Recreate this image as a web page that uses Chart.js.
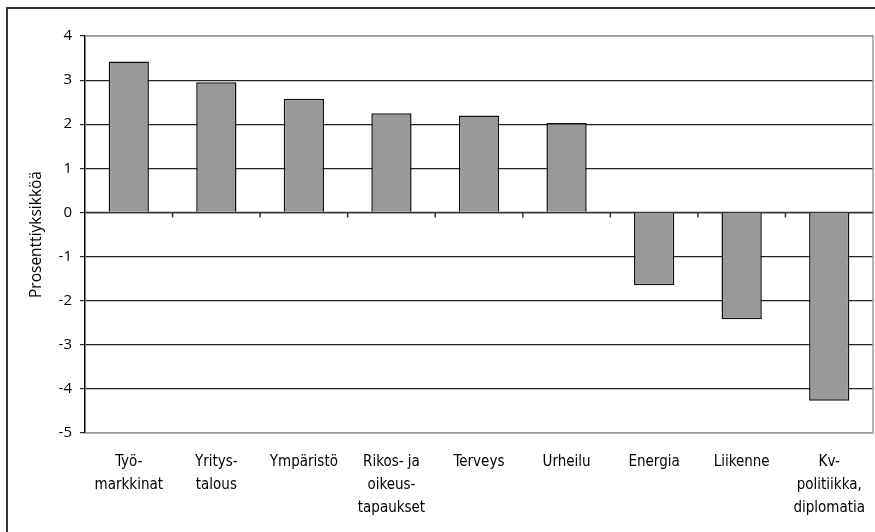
<!DOCTYPE html>
<html>
<head>
<meta charset="utf-8">
<script src="https://cdn.jsdelivr.net/npm/chart.js@4/dist/chart.umd.min.js"></script>
<style>
  html, body { margin: 0; padding: 0; background: #fff; }
  #wrap { width: 875px; height: 532px; position: relative; }
</style>
</head>
<body>
<div id="wrap"><canvas id="chart"></canvas></div>
<script>
const categories = [
  ["Työ-", "markkinat"],
  ["Yritys-", "talous"],
  ["Ympäristö"],
  ["Rikos- ja", "oikeus-", "tapaukset"],
  ["Terveys"],
  ["Urheilu"],
  ["Energia"],
  ["Liikenne"],
  ["Kv-", "politiikka,", "diplomatia"]
];
const values = [3.42, 2.95, 2.58, 2.25, 2.2, 2.03, -1.65, -2.42, -4.27];
const yMin = -5;
const yMax = 4;
const yTitle = "Prosenttiyksikköä";

// frame, plot border and zero line tick marks
const decorations = {
  id: "decorations",
  beforeDatasetsDraw(chart) {
    const { ctx, chartArea: a, scales } = chart;
    ctx.save();
    ctx.strokeStyle = "#9a9a9a";
    ctx.lineWidth = 1.5;
    ctx.beginPath();
    ctx.moveTo(a.left, a.top);
    ctx.lineTo(a.right, a.top);
    ctx.lineTo(a.right, a.bottom);
    ctx.lineTo(a.left, a.bottom);
    ctx.stroke();

    const y0 = scales.y.getPixelForValue(0);
    ctx.strokeStyle = "#333";
    ctx.lineWidth = 1.5;
    ctx.beginPath();
    ctx.moveTo(a.left, y0);
    ctx.lineTo(a.right, y0);
    const n = categories.length;
    for (let i = 1; i < n; i++) {
      const x = (scales.x.getPixelForValue(i - 1) + scales.x.getPixelForValue(i)) / 2;
      ctx.moveTo(x, y0);
      ctx.lineTo(x, y0 + 5);
    }
    ctx.stroke();
    ctx.restore();
  },
  afterDraw(chart) {
    const { ctx } = chart;
    ctx.save();
    ctx.strokeStyle = "#333";
    ctx.lineWidth = 2;
    ctx.strokeRect(7, 8, chart.width + 10, chart.height + 10);
    ctx.restore();
  }
};

new Chart(document.getElementById("chart"), {
  type: "bar",
  data: {
    labels: categories,
    datasets: [{
      data: values,
      backgroundColor: "#999999",
      borderColor: "#111",
      borderWidth: 1.5,
      categoryPercentage: 1,
      barPercentage: 0.46
    }]
  },
  options: {
    responsive: true,
    maintainAspectRatio: false,
    animation: false,
    layout: { padding: { left: 0, right: 2, top: 36, bottom: 0 } },
    plugins: {
      legend: { display: false },
      tooltip: { enabled: false }
    },
    scales: {
      x: {
        grid: { display: false, drawTicks: false },
        border: { display: false },
        ticks: {
          color: "#000",
          padding: 17,
          maxRotation: 0,
          autoSkip: false,
          font: { family: "DejaVu Sans Condensed", size: 15, lineHeight: 1.55 }
        },
        afterFit(scale) {
          scale.height = 99;
          scale.paddingLeft = 0;
          scale.paddingRight = 0;
        }
      },
      y: {
        min: yMin,
        max: yMax,
        grid: {
          color: ctx => (ctx.tick && (ctx.tick.value === yMax || ctx.tick.value === yMin)) ? "#9a9a9a" : "#222",
          tickColor: "#222",
          tickLength: 5,
          lineWidth: 1.2
        },
        border: { color: "#000", width: 1.5 },
        ticks: {
          stepSize: 1,
          color: "#000",
          padding: 8,
          font: { family: "Open Sans", size: 15 }
        },
        title: {
          display: true,
          text: yTitle,
          color: "#000",
          padding: { top: 27, bottom: 0 },
          font: { family: "Open Sans", size: 15.5 }
        },
        afterFit(scale) {
          scale.width = 85;
          scale.paddingTop = 0;
          scale.paddingBottom = 0;
        }
      }
    }
  },
  plugins: [decorations]
});
</script>
</body>
</html>
